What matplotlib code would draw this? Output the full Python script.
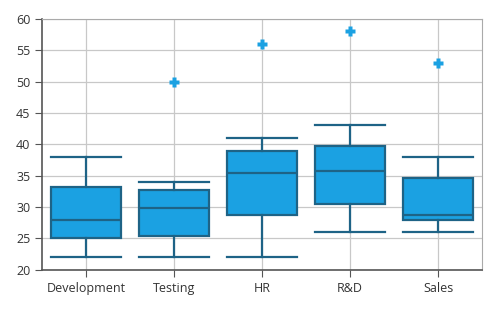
import matplotlib
matplotlib.use("Agg")
import matplotlib.pyplot as plt

# departments and their box statistics
departments = ["Development", "Testing", "HR", "R&D", "Sales"]
whisker_low = [22, 22, 22, 26, 26]
q1 = [25, 25.4, 28.7, 30.5, 27.9]
median = [28, 29.8, 35.4, 35.8, 28.8]
q3 = [33.2, 32.7, 39, 39.8, 34.6]
whisker_high = [38, 34, 41, 43, 38]
outliers = [[], [50], [56], [58], [53]]

FILL, EDGE, INK, GRID = "#1ba1e2", "#1e6386", "#333333", "#c8c8c8"
plt.rcParams.update({"font.family": "Open Sans", "font.size": 9})

stats = []
for i, name in enumerate(departments):
    stats.append({"label": name, "whislo": whisker_low[i], "q1": q1[i], "med": median[i],
                  "q3": q3[i], "whishi": whisker_high[i], "fliers": outliers[i]})

fig = plt.figure(figsize=(5, 3.12), dpi=100)
ax = fig.add_axes([0.084, 0.135, 0.88, 0.805])

line = {"color": EDGE, "linewidth": 1.6}
ax.bxp(stats, positions=range(len(departments)), widths=0.8, patch_artist=True,
       boxprops={"facecolor": FILL, "edgecolor": EDGE, "linewidth": 1.6},
       medianprops=line, whiskerprops=line, capprops=line, capwidths=0.8,
       flierprops={"marker": "P", "markersize": 7.5, "markerfacecolor": FILL,
                   "markeredgecolor": "none"})

ax.set_xlim(-0.5, len(departments) - 0.5)
ax.set_ylim(20, 60)
ax.set_yticks(range(20, 61, 5))
ax.grid(True, color=GRID, linewidth=0.9)
ax.set_axisbelow(True)
for s in ("top", "right"):
    ax.spines[s].set_color("#aaaaaa")
for s in ("left", "bottom"):
    ax.spines[s].set_color("#555555")
    ax.spines[s].set_linewidth(1.2)
ax.tick_params(colors="#555555", labelcolor=INK, length=5)

fig.savefig("out.png", dpi=100)
